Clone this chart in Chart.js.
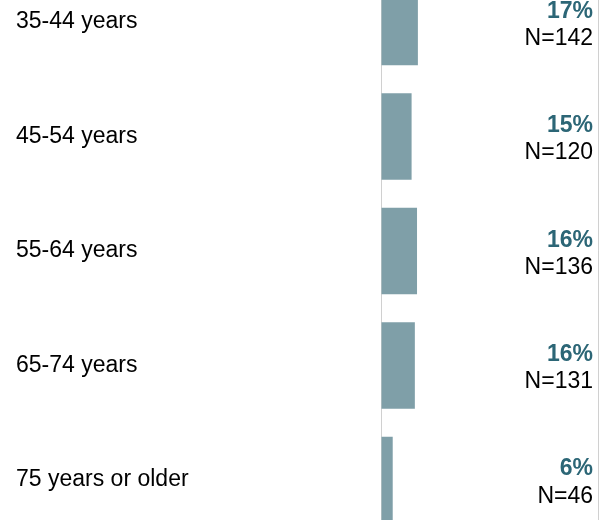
<!DOCTYPE html>
<html>
<head>
<meta charset="utf-8">
<script src="https://cdn.jsdelivr.net/npm/chart.js@4"></script>
<style>
  html, body { margin: 0; padding: 0; background: #fff; overflow: hidden; width: 616px; height: 520px; }
  #wrap { position: absolute; left: 0; top: -52px; width: 616px; height: 606px; }
</style>
</head>
<body>
<div id="wrap"><canvas id="ageChart" width="616" height="606"></canvas></div>
<script>
// age groups shown in this part of the chart
const ageGroups = ['35-44 years', '45-54 years', '55-64 years', '65-74 years', '75 years or older'];
// bar lengths (share, %)
const shareValues = [17.0, 14.1, 16.6, 15.6, 5.4];
// printed labels
const pctLabels = ['17%', '15%', '16%', '16%', '6%'];
const nLabels = ['N=142', 'N=120', 'N=136', 'N=131', 'N=46'];

const FONT = 'Arial, "Liberation Sans", sans-serif';

// puts the "xx%" / "N=..." pair at the right edge of each row
const rowLabels = {
    id: 'rowLabels',
    afterDatasetsDraw(chart) {
        const ctx = chart.ctx;
        const y = chart.scales.y;
        const xRight = chart.chartArea.right - 5;
        ctx.save();
        ctx.textAlign = 'right';
        ctx.textBaseline = 'alphabetic';
        ageGroups.forEach((g, i) => {
            const cy = y.getPixelForValue(i);
            ctx.font = 'bold 23px ' + FONT;
            ctx.fillStyle = '#2c6676';
            ctx.fillText(pctLabels[i], xRight, cy - 4.5);
            ctx.font = '23px ' + FONT;
            ctx.fillStyle = '#000';
            ctx.fillText(nLabels[i], xRight, cy + 22.8);
        });
        ctx.restore();
    }
};

const ctx = document.getElementById('ageChart').getContext('2d');
const ageChart = new Chart(ctx, {
    type: 'bar',
    data: {
        labels: ageGroups,
        datasets: [{
            data: shareValues,
            backgroundColor: '#7f9fa8',
            borderWidth: 0,
            barPercentage: 0.754,
            categoryPercentage: 1
        }]
    },
    options: {
        indexAxis: 'y',
        responsive: false,
        animation: false,
        layout: { padding: { left: 16, right: 18, top: 0, bottom: 0 } },
        plugins: {
            legend: { display: false },
            tooltip: { enabled: false }
        },
        scales: {
            x: {
                min: 0,
                max: 100,
                ticks: { display: false, stepSize: 100 },
                grid: { color: '#d0d0d0', lineWidth: 1, drawTicks: false },
                border: { display: false },
                afterFit: (s) => { s.height = 0; }
            },
            y: {
                grid: { display: false, drawTicks: false },
                border: { display: false },
                ticks: {
                    crossAlign: 'far',
                    color: '#000',
                    font: { family: FONT, size: 23 }
                },
                afterFit: (s) => { s.width = 365; }
            }
        }
    },
    plugins: [rowLabels]
});
</script>
</body>
</html>
